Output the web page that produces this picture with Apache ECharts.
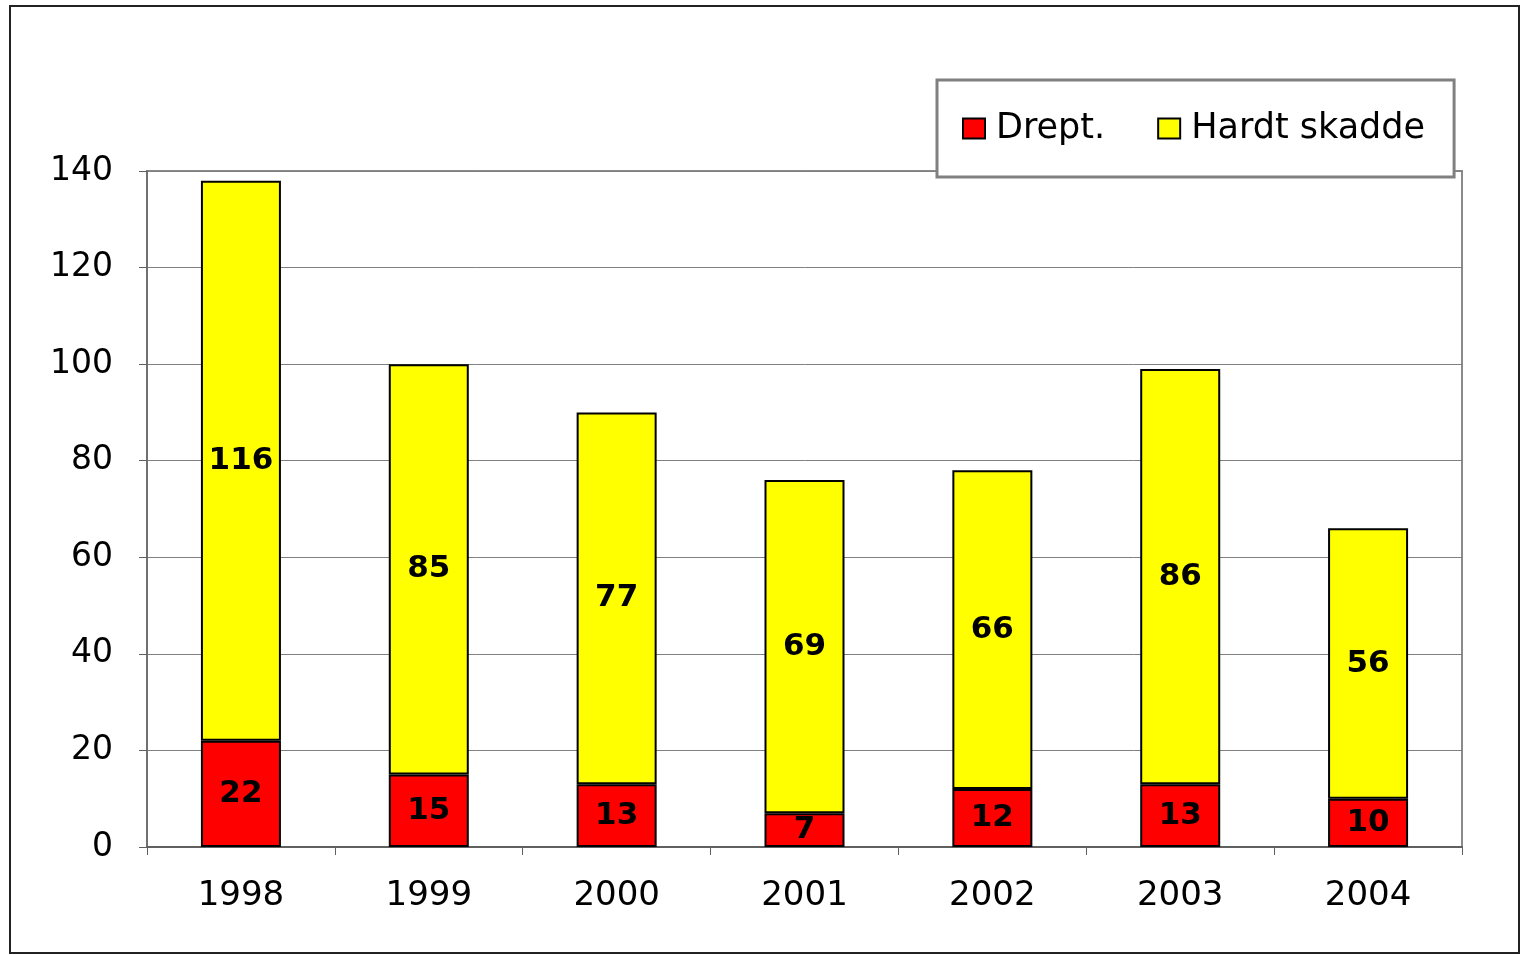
<!DOCTYPE html>
<html>
<head>
<meta charset="utf-8">
<script src="https://cdn.jsdelivr.net/npm/echarts@6/dist/echarts.min.js"></script>
<style>
  html, body { margin: 0; padding: 0; background: #fff; }
  #chart { width: 1521px; height: 955px; }
</style>
</head>
<body>
<div id="chart"></div>
<script>
// data
var years = ['1998', '1999', '2000', '2001', '2002', '2003', '2004']
var drept = [22, 15, 13, 7, 12, 13, 10]
var hardtSkadde = [116, 85, 77, 69, 66, 86, 56]
var seriesNames = ['Drept.', 'Hardt skadde']

var font = 'DejaVu Sans'
var chart = echarts.init(document.getElementById('chart'))

var barLabel = {
    show: true,
    position: 'inside',
    color: '#000',
    fontFamily: font,
    fontWeight: 'bold',
    fontSize: 31
}

chart.setOption({
    animation: false,
    backgroundColor: '#fff',
    graphic: [{
        type: 'rect',
        shape: { x: 10, y: 6, width: 1509, height: 947 },
        style: { fill: 'none', stroke: '#222', lineWidth: 2 },
        z: 100
    }],
    legend: {
        data: seriesNames,
        left: 937,
        top: 80,
        orient: 'horizontal',
        icon: 'rect',
        itemWidth: 22,
        itemHeight: 20,
        itemGap: 52,
        padding: [31, 29, 31, 25],
        backgroundColor: '#fff',
        borderColor: '#808080',
        borderWidth: 3,
        textStyle: {
            fontFamily: font,
            fontSize: 35,
            lineHeight: 35,
            color: '#000',
            padding: [0, 0, 0, 6]
        },
        z: 10
    },
    grid: {
        left: 147,
        right: 59,
        top: 171,
        bottom: 108,
        show: true,
        borderColor: '#8a8a8a',
        borderWidth: 2,
        containLabel: false,
        outerBoundsMode: 'none'
    },
    xAxis: {
        type: 'category',
        data: years,
        axisLine: { lineStyle: { color: '#606060', width: 2 } },
        axisTick: { show: true, length: 8, lineStyle: { color: '#606060', width: 1 } },
        axisLabel: { fontFamily: font, fontSize: 34, color: '#000', margin: 32 }
    },
    yAxis: {
        type: 'value',
        min: 0,
        max: 140,
        interval: 20,
        axisLine: { show: true, lineStyle: { color: '#707070', width: 2 } },
        axisTick: { show: true, length: 8, lineStyle: { color: '#606060', width: 1 } },
        axisLabel: { fontFamily: font, fontSize: 33, color: '#000', margin: 34 },
        splitLine: { lineStyle: { color: '#808080', width: 1 } }
    },
    series: [
        {
            name: seriesNames[0],
            type: 'bar',
            stack: 'total',
            barWidth: 80,
            data: drept,
            itemStyle: { color: '#ff0000', borderColor: '#000', borderWidth: 2 },
            label: barLabel
        },
        {
            name: seriesNames[1],
            type: 'bar',
            stack: 'total',
            barWidth: 80,
            data: hardtSkadde,
            itemStyle: { color: '#ffff00', borderColor: '#000', borderWidth: 2 },
            label: barLabel
        }
    ]
})
</script>
</body>
</html>
